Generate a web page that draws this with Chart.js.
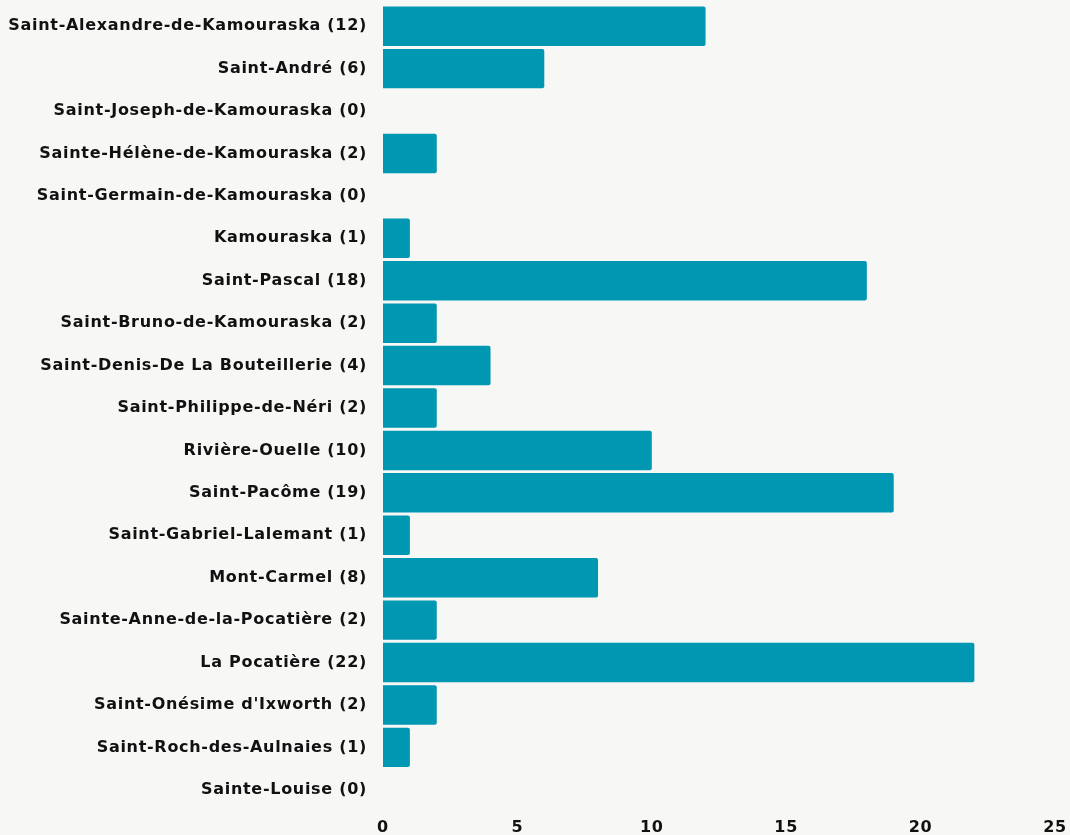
<!DOCTYPE html>
<html>
<head>
<meta charset="utf-8">
<script src="https://cdn.jsdelivr.net/npm/chart.js@4/dist/chart.umd.min.js"></script>
<style>
html,body{margin:0;padding:0;background:#f7f7f5;}
#wrap{width:1070px;height:835px;position:relative;}
</style>
</head>
<body>
<div id="wrap"><canvas id="c" width="1070" height="835"></canvas></div>
<script>
const categories = ["Saint-Alexandre-de-Kamouraska","Saint-André","Saint-Joseph-de-Kamouraska","Sainte-Hélène-de-Kamouraska","Saint-Germain-de-Kamouraska","Kamouraska","Saint-Pascal","Saint-Bruno-de-Kamouraska","Saint-Denis-De La Bouteillerie","Saint-Philippe-de-Néri","Rivière-Ouelle","Saint-Pacôme","Saint-Gabriel-Lalemant","Mont-Carmel","Sainte-Anne-de-la-Pocatière","La Pocatière","Saint-Onésime d'Ixworth","Saint-Roch-des-Aulnaies","Sainte-Louise"];
const values = [12,6,0,2,0,1,18,2,4,2,10,19,1,8,2,22,2,1,0];
const xTicks = [0,5,10,15,20,25];

const labels = categories.map((c,i)=>c+" ("+values[i]+")");
const font = {family:"'DejaVu Sans', sans-serif", size:16, weight:"bold"};

const spacing = {
  id:'spacing',
  beforeLayout(chart){ chart.ctx.letterSpacing='0.7px'; },
  beforeDraw(chart){ chart.ctx.letterSpacing='0.7px'; }
};

new Chart(document.getElementById('c'), {
  type:'bar',
  data:{labels:labels, datasets:[{data:values, backgroundColor:'#0097b2', borderRadius:{topRight:2,bottomRight:2,topLeft:0,bottomLeft:0}, borderSkipped:'start', barPercentage:0.93, categoryPercentage:1}]},
  plugins:[spacing],
  options:{
    indexAxis:'y', responsive:false, animation:false,
    layout:{padding:{top:5,right:15,left:0,bottom:0}},
    plugins:{legend:{display:false}, tooltip:{enabled:false}},
    scales:{
      x:{min:0,max:25, grid:{display:false, drawTicks:false}, border:{display:false},
         afterBuildTicks:(s)=>{s.ticks = xTicks.map(v=>({value:v}));},
         ticks:{color:'#111', font:font, padding:7, maxRotation:0},
         afterFit:(s)=>{s.height=24; s.paddingLeft=0; s.paddingRight=0;}},
      y:{grid:{display:false, drawTicks:false}, border:{display:false},
         ticks:{color:'#111', font:font, padding:16, autoSkip:false},
         afterFit:(s)=>{s.width=383; s.paddingTop=0; s.paddingBottom=0;}}
    }
  }
});
</script>
</body>
</html>
